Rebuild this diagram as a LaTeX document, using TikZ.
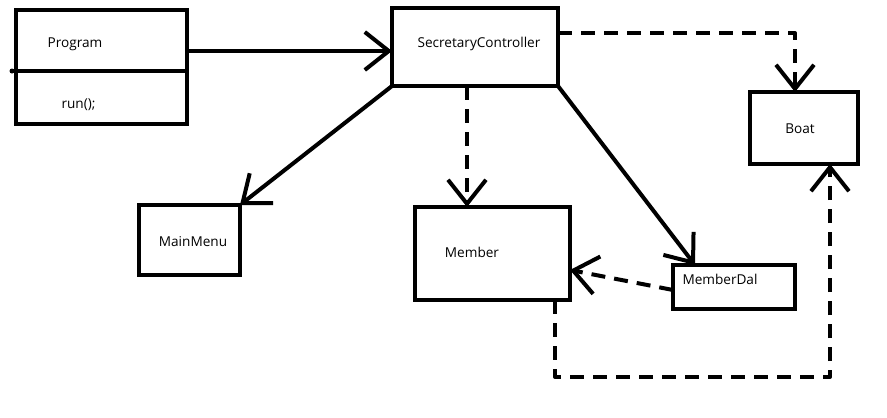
\documentclass[tikz,border=0pt]{standalone}
\usepackage{fontspec}
\setmainfont{Open Sans}
\usetikzlibrary{arrows.meta}
\begin{document}
\begin{tikzpicture}[x=1pt,y=-1pt,
  box/.style={draw=black,line width=4pt,minimum width=#1,inner sep=0pt,outer sep=0pt},
  txt/.style={font=\fontsize{13.6}{15}\selectfont,inner sep=0pt,text=black},
  conn/.style={line width=4pt,-{Straight Barb[length=24pt,width=38pt]}},
  dep/.style={conn,dash pattern=on 14pt off 9pt,line join=round}
]
\useasboundingbox (0,0) rectangle (887,418);
% boxes
\node[box=171pt,minimum height=114pt] (program) at (101.5,67) {};
\node[box=166pt,minimum height=78pt] (secretary) at (475,47) {};
\node[box=108pt,minimum height=72pt] (boat) at (804,128) {};
\node[box=101pt,minimum height=70pt] (mainmenu) at (189.5,240) {};
\node[box=155pt,minimum height=93pt] (member) at (492.5,253.5) {};
\node[box=122pt,minimum height=44pt] (memberdal) at (734,287) {};
% divider in Program
\coordinate (divl) at (12,71);
\draw[line width=4pt] (divl) -- (divl -| program.east);
\fill (divl) circle (2.5pt);
% labels
\node[txt] (programlbl) at (75,44) {Program};
\node[txt] (runlbl) at (78.5,105) {run();};
\node[txt] (secretarylbl) at (479,44) {SecretaryController};
\node[txt] (boatlbl) at (800,129) {Boat};
\node[txt] (mainmenulbl) at (193,242) {MainMenu};
\node[txt] (memberlbl) at (472,252) {Member};
\node[txt] (memberdallbl) at (720,279) {MemberDal};
% connectors
\draw[conn] ([yshift=16pt]program.east) -- ([yshift=16pt]program.east -| secretary.west);
\draw[dep] ([yshift=14pt]secretary.east) -| ([xshift=-9pt]boat.north);
\draw[dep] ([xshift=-8pt]secretary.south) -- ([xshift=-8pt]secretary.south |- member.north);
\draw[conn] (secretary.south west) -- (mainmenu.north east);
\draw[conn] (secretary.south east) -- ([xshift=-39pt]memberdal.north);
\draw[dep] ([yshift=-3pt]memberdal.west) -- ([yshift=-16.5pt]member.east);
\coordinate (c1) at (555,377);
\coordinate (c2) at (830,377);
\draw[dep] ([xshift=62.5pt]member.south) -- (c1) -- (c2) -- ([xshift=26pt]boat.south);
\end{tikzpicture}
\end{document}
